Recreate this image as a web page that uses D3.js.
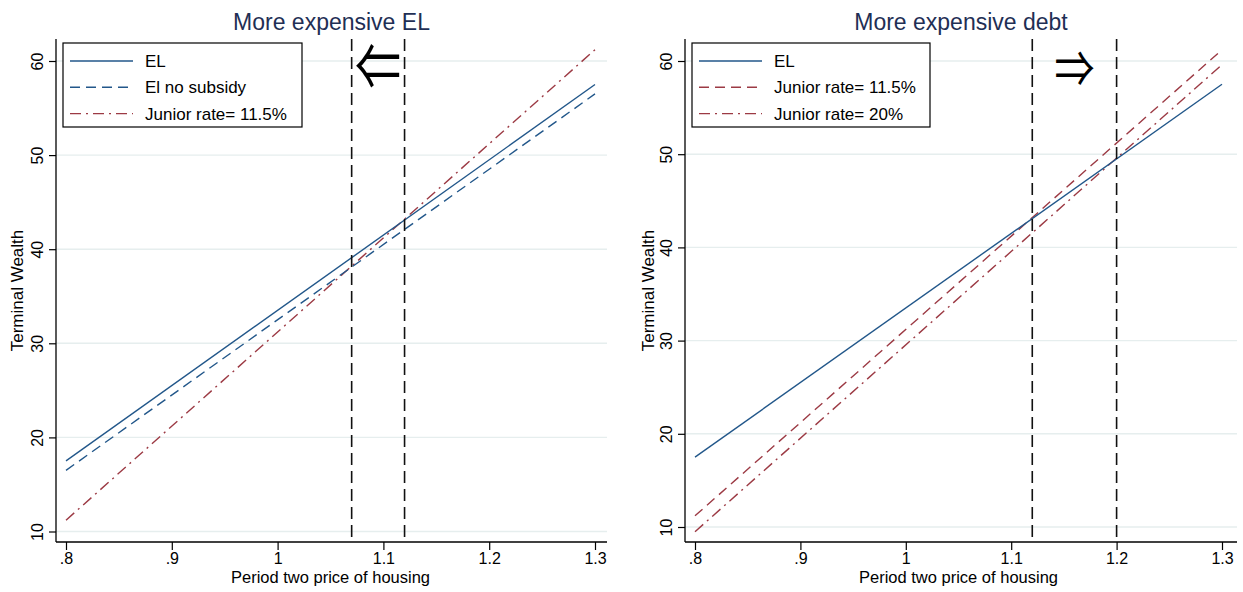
<!DOCTYPE html>
<html>
<head>
<meta charset="utf-8">
<script src="https://cdn.jsdelivr.net/npm/d3@7"></script>
<style>
  html, body { margin: 0; padding: 0; background: #fff; }
  svg { display: block; font-family: "Liberation Sans", Arial, Helvetica, sans-serif; }
</style>
</head>
<body>
<svg id="chart" width="1243" height="592"></svg>
<script>
// Period-two house price (x) and terminal wealth of each financing choice
const priceX = [0.8, 1.3];
const elWealth = [17.5, 57.5];
const elNoSubsidyWealth = [16.5, 56.5];
const junior115Wealth = [11.2, 61.2];
const junior20Wealth = [9.5, 59.6];

const xTicks = [0.8, 0.9, 1, 1.1, 1.2, 1.3];
const xTickLabels = [".8", ".9", "1", "1.1", "1.2", "1.3"];
const yTicks = [10, 20, 30, 40, 50, 60];
const yTickLabels = ["10", "20", "30", "40", "50", "60"];

// Break-even prices marked by vertical lines
const leftCutoffs = [1.07, 1.12];
const rightCutoffs = [1.12, 1.2];

const panelTitles = ["More expensive EL", "More expensive debt"];
const xTitle = "Period two price of housing";
const yTitle = "Terminal Wealth";

const BLUE = "#22578a";
const RED = "#9c3a44";

const panels = [
  {
    title: panelTitles[0],
    left: 56, right: 607, top: 39, bottom: 542,
    xRange: [66, 595], yRange: [531.5, 61],
    yTitleX: 23,
    cutoffs: leftCutoffs,
    arrow: "\u21D0", arrowY: 62, arrowSize: 46, arrowStretch: 1.4,
    legendBox: [63, 43, 302, 127],
    series: [
      { name: "EL", values: elWealth, color: BLUE, dash: null },
      { name: "El no subsidy", values: elNoSubsidyWealth, color: BLUE, dash: "10,6" },
      { name: "Junior rate= 11.5%", values: junior115Wealth, color: RED, dash: "11,5,2,5" }
    ]
  },
  {
    title: panelTitles[1],
    left: 685, right: 1237, top: 39, bottom: 542,
    xRange: [695, 1222], yRange: [527, 61],
    yTitleX: 654,
    cutoffs: rightCutoffs,
    arrow: "\u21D2", arrowY: 65, arrowSize: 40, arrowStretch: 1.25,
    legendBox: [692, 43, 930, 127],
    series: [
      { name: "EL", values: elWealth, color: BLUE, dash: null },
      { name: "Junior rate= 11.5%", values: junior115Wealth, color: RED, dash: "10,6" },
      { name: "Junior rate= 20%", values: junior20Wealth, color: RED, dash: "11,5,2,5" }
    ]
  }
];

const svg = d3.select("#chart");

panels.forEach(p => {
  const g = svg.append("g");
  const x = d3.scaleLinear().domain([xTicks[0], xTicks[xTicks.length - 1]]).range(p.xRange);
  const y = d3.scaleLinear().domain([yTicks[0], yTicks[yTicks.length - 1]]).range(p.yRange);

  // horizontal grid
  g.append("g").selectAll("line").data(yTicks).join("line")
    .attr("x1", p.left).attr("x2", p.right)
    .attr("y1", d => y(d)).attr("y2", d => y(d))
    .attr("stroke", "#e6eeee").attr("stroke-width", 1.4);

  // series lines
  const line = d3.line().x(d => x(d[0])).y(d => y(d[1]));
  p.series.slice().reverse().forEach(s => {
    g.append("path")
      .datum(priceX.map((px, i) => [px, s.values[i]]))
      .attr("d", line)
      .attr("fill", "none")
      .attr("stroke", s.color)
      .attr("stroke-width", 1.4)
      .attr("stroke-dasharray", s.dash);
  });

  // vertical cutoff lines
  g.append("g").selectAll("line").data(p.cutoffs).join("line")
    .attr("x1", d => x(d)).attr("x2", d => x(d))
    .attr("y1", p.top).attr("y2", p.bottom)
    .attr("stroke", "#111").attr("stroke-width", 1.6)
    .attr("stroke-dasharray", "12,6");

  // axes
  const xAxis = d3.axisBottom(x).tickValues(xTicks)
    .tickFormat((d, i) => xTickLabels[i]).tickSize(8).tickSizeOuter(0);
  const xg = g.append("g").attr("transform", `translate(0,${p.bottom})`).call(xAxis);
  xg.select(".domain").attr("d", `M${p.left},0H${p.right}`).attr("stroke", "#000").attr("stroke-width", 1.3);
  xg.selectAll(".tick line").attr("stroke", "#000").attr("stroke-width", 1.2);
  xg.selectAll(".tick text").attr("font-size", 16).attr("fill", "#000")
    .attr("font-family", "Liberation Sans, Arial, sans-serif");

  const yAxis = d3.axisLeft(y).tickValues(yTicks)
    .tickFormat((d, i) => yTickLabels[i]).tickSize(7).tickSizeOuter(0);
  const yg = g.append("g").attr("transform", `translate(${p.left},0)`).call(yAxis);
  yg.select(".domain").attr("d", `M0,${p.top}V${p.bottom}`).attr("stroke", "#000").attr("stroke-width", 1.3);
  yg.selectAll(".tick line").attr("stroke", "#000").attr("stroke-width", 1.2);
  yg.selectAll(".tick text")
    .attr("font-size", 16).attr("fill", "#000")
    .attr("font-family", "Liberation Sans, Arial, sans-serif")
    .attr("x", null).attr("dy", null)
    .attr("text-anchor", "middle")
    .attr("transform", "translate(-13,0) rotate(-90)");

  // titles
  g.append("text")
    .attr("x", (p.left + p.right) / 2).attr("y", 30)
    .attr("text-anchor", "middle").attr("font-size", 23).attr("fill", "#1f2f55")
    .text(p.title);

  g.append("text")
    .attr("x", (p.xRange[0] + p.xRange[1]) / 2).attr("y", 583)
    .attr("text-anchor", "middle").attr("font-size", 16.5).attr("fill", "#000")
    .text(xTitle);

  g.append("text")
    .attr("transform", `translate(${p.yTitleX},${(p.top + p.bottom) / 2}) rotate(-90)`)
    .attr("text-anchor", "middle").attr("font-size", 17).attr("fill", "#000")
    .text(yTitle);

  // arrow annotation, centred between the two cutoff prices
  const arrowX = x(d3.mean(p.cutoffs));
  g.append("text")
    .attr("transform", `translate(${arrowX},${p.arrowY}) scale(1,${p.arrowStretch})`)
    .attr("text-anchor", "middle").attr("dominant-baseline", "central")
    .attr("font-family", "Noto Sans CJK JP, DejaVu Sans, sans-serif")
    .attr("font-size", p.arrowSize).attr("fill", "#000")
    .text(p.arrow);

  // legend
  const [bx0, by0, bx1, by1] = p.legendBox;
  g.append("rect")
    .attr("x", bx0).attr("y", by0).attr("width", bx1 - bx0).attr("height", by1 - by0)
    .attr("fill", "#fff").attr("stroke", "#000").attr("stroke-width", 1.2);
  const lg = g.append("g");
  p.series.forEach((s, i) => {
    const ly = by0 + 18 + i * 26.3;
    lg.append("line")
      .attr("x1", bx0 + 7).attr("x2", bx0 + 70)
      .attr("y1", ly).attr("y2", ly)
      .attr("stroke", s.color).attr("stroke-width", 1.4)
      .attr("stroke-dasharray", s.dash);
    lg.append("text")
      .attr("x", bx0 + 82).attr("y", ly).attr("dy", "0.36em")
      .attr("font-size", 17).attr("fill", "#000")
      .text(s.name);
  });
});
</script>
</body>
</html>
